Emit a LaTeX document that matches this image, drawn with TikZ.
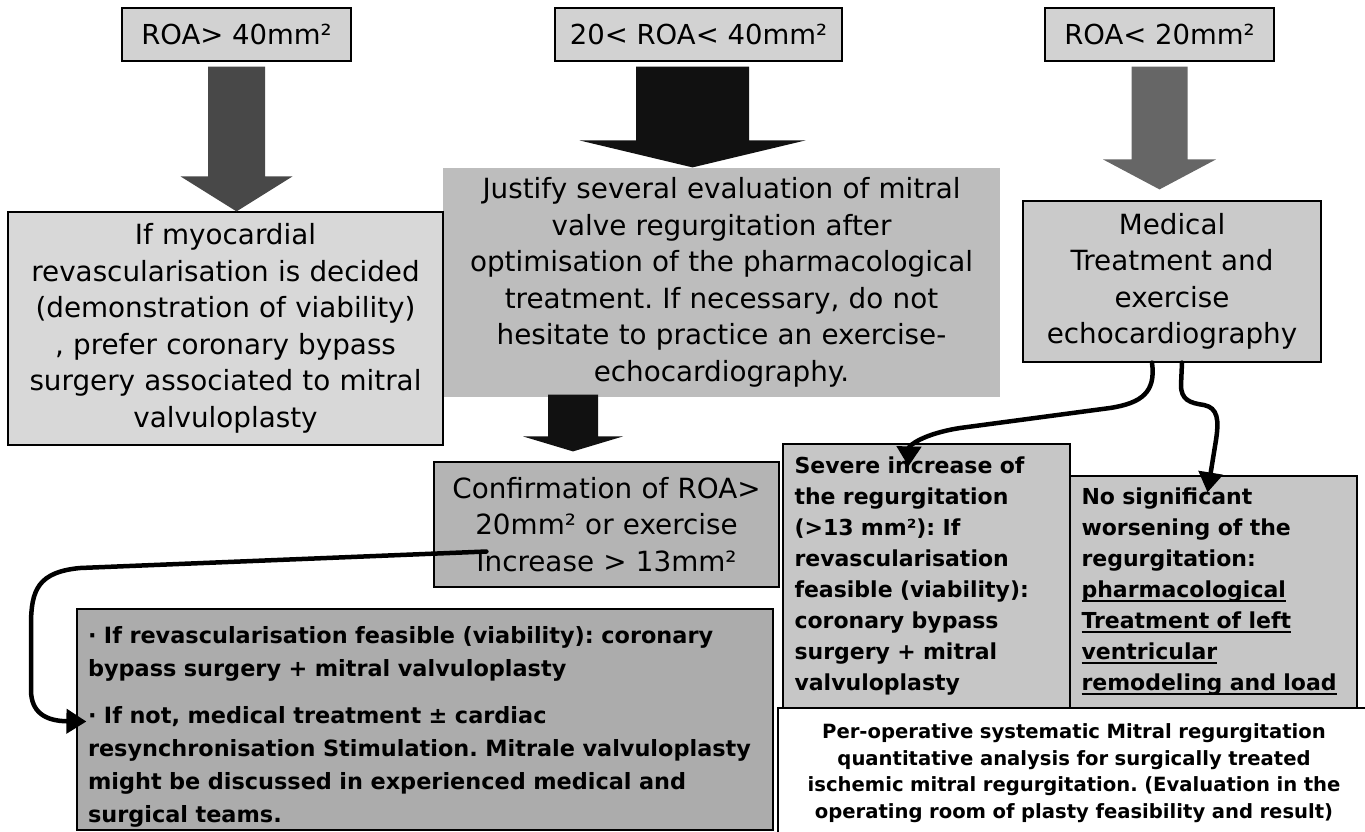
\documentclass[tikz,border=0pt]{standalone}
\usepackage{fontspec}
\setmainfont{DejaVu Sans}
\usetikzlibrary{arrows.meta,calc}

\definecolor{arrowdark}{HTML}{484848}
\definecolor{arrowblack}{HTML}{111111}
\definecolor{arrowgrey}{HTML}{666666}
\definecolor{fillroa}{HTML}{D2D2D2}
\definecolor{fillpale}{HTML}{D8D8D8}
\definecolor{fillmid}{HTML}{BDBDBD}
\definecolor{fillconf}{HTML}{B4B4B4}
\definecolor{fillmed}{HTML}{CACACA}
\definecolor{fillres}{HTML}{C6C6C6}
\definecolor{fillsurg}{HTML}{ACACAC}

% underline a short line of text
\newcommand{\undl}[1]{\leavevmode\setbox0\hbox{#1}\rlap{\rule[-4pt]{\wd0}{1.6pt}}\box0}

% block arrow: colour, start, target node, shaft half, head half, gap, head length
\newcommand{\blockarrow}[7]{%
  \fill[#1] let \p1=#2, \p2=(#3.north) in
    (\x1-#4,\y1) -- (\x1+#4,\y1) -- (\x1+#4,\y2+#6+#7) -- (\x1+#5,\y2+#6+#7)
    -- (\x1,\y2+#6) -- (\x1-#5,\y2+#6+#7) -- (\x1-#4,\y2+#6+#7) -- cycle;}

\tikzset{
  box/.style={draw, line width=1.2pt, inner sep=0pt, align=center},
  titlebox/.style={box, fill=fillroa, font=\fontsize{27.5}{34}\selectfont},
  bigtext/.style={font=\fontsize{27.8}{36.5}\selectfont},
  boldtext/.style={font=\bfseries\fontsize{22}{31}\selectfont, align=left},
  conn/.style={line width=4.5pt, line cap=round, -{Triangle[length=20pt,width=24pt]}},
}

\begin{document}
\frenchspacing\hyphenpenalty=10000
\begin{tikzpicture}[x=1pt,y=-1pt]
\useasboundingbox (0,0) rectangle (1365,831);
% top row
\node[titlebox, minimum width=229pt, minimum height=53pt] (roa40) at (236.5,34.5) {ROA> 40mm²};
\node[titlebox, minimum width=287pt, minimum height=53pt] (roamid) at (698.5,34.5) {20< ROA< 40mm²};
\node[titlebox, minimum width=229pt, minimum height=53pt] (roa20) at (1159.5,34.5) {ROA< 20mm²};
% second row
\node[box, draw=none, fill=fillmid, bigtext, minimum width=557pt, minimum height=229pt, text width=549pt]
  (justify) at (721.5,282.5) {Justify several evaluation of mitral\\valve regurgitation after\\optimisation of the pharmacological\\treatment. If necessary, do not\\hesitate to practice an exercise-\\echocardiography.};
\node[box, fill=fillpale, bigtext, minimum width=435pt, minimum height=233pt, text width=429pt]
  (myocard) at (225.5,328.5) {If myocardial\\revascularisation is decided\\(demonstration of viability)\\, prefer coronary bypass\\surgery associated to mitral\\valvuloplasty};
\node[box, fill=fillmed, bigtext, minimum width=298pt, minimum height=161pt, text width=292pt]
  (medical) at (1172,281.5) {Medical\\Treatment and\\exercise\\echocardiography};
% third row
\node[box, fill=fillconf, bigtext, minimum width=345pt, minimum height=125pt, text width=339pt]
  (confirm) at (606.5,524.5) {Confirmation of ROA>\\20mm² or exercise\\Increase > 13mm²};
\node[box, fill=white, font=\bfseries\fontsize{19.6}{26.5}\selectfont, minimum width=592pt, minimum height=130pt, text width=580pt]
  (perop) at (1074,773) {Per-operative systematic Mitral regurgitation\\quantitative analysis for surgically treated\\ischemic mitral regurgitation. (Evaluation in the\\operating room of plasty feasibility and result)};
\node[box, fill=fillres, boldtext, minimum width=287pt, minimum height=264pt, text width=264pt]
  (severe) at (926.5,576) {Severe increase of\\the regurgitation\\(>13 mm²): If\\revascularisation\\feasible (viability):\\coronary bypass\\surgery + mitral\\valvuloplasty};
\node[box, fill=fillres, boldtext, minimum width=287pt, minimum height=232pt, text width=264pt]
  (nosig) at (1213.5,592) {No significant\\worsening of the\\regurgitation:\\\undl{pharmacological}\\\undl{Treatment of left}\\\undl{ventricular}\\\undl{remodeling and load}};
\node[box, fill=fillsurg, font=\bfseries\fontsize{22.4}{33}\selectfont, align=left, minimum width=696pt, minimum height=221pt, text width=674pt]
  (surgery) at (425,719.5) {\rule{0pt}{31pt}· If revascularisation feasible (viability): coronary\\bypass surgery + mitral valvuloplasty\\[14pt]· If not, medical treatment ± cardiac\\resynchronisation Stimulation. Mitrale valvuloplasty\\might be discussed in experienced medical and\\surgical teams.};
% block arrows
\blockarrow{arrowdark}{($(roa40.south)+(0,5)$)}{myocard}{28.5pt}{56pt}{0pt}{35pt}
\blockarrow{arrowblack}{($(roamid.south)+(-6,5)$)}{justify}{56.5pt}{113pt}{0pt}{27pt}
\blockarrow{arrowgrey}{($(roa20.south)+(0,5)$)}{medical}{28pt}{56.5pt}{11pt}{30pt}
\blockarrow{arrowblack}{($(justify.south)+(-148.5,-3)$)}{confirm}{25pt}{50pt}{10pt}{15pt}
% curved connectors
\coordinate (c1) at ($(confirm.west)+(53,27)$);
\coordinate (s1) at ($(medical.south)+(-20,0)$);
\coordinate (s2) at ($(medical.south)+(10,0)$);
\draw[conn] (c1) -- (80,568) .. controls (38,572) and (31,590) .. (31,625) -- (31,690)
  .. controls (31,712) and (45,721) .. ($(surgery.west)+(10,2)$);
\draw[conn] (s1) .. controls (1156,392) and (1142,403) .. (1110,408) -- (960,428)
  .. controls (922,434) and (909,446) .. ($(severe.north)+(-18,23)$);
\draw[conn] (s2) -- (1181,385) .. controls (1181,400) and (1190,403) .. (1204,405)
  .. controls (1218,408) and (1219,420) .. (1216,440) -- ($(nosig.north)+(-6,17)$);
\end{tikzpicture}
\end{document}
